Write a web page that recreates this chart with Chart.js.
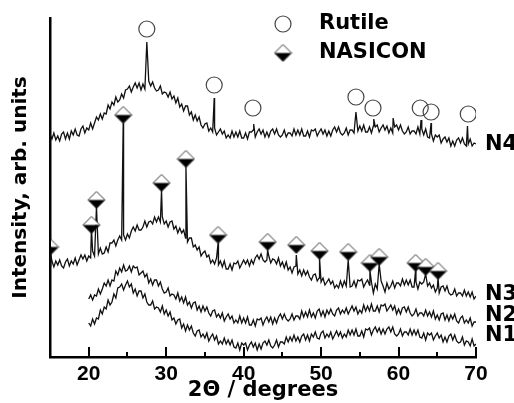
<!DOCTYPE html>
<html>
<head>
<meta charset="utf-8">
<script src="https://cdn.jsdelivr.net/npm/chart.js@4.4.0/dist/chart.umd.min.js"></script>
<style>
  html, body { margin: 0; padding: 0; background: #fff; }
  #wrap { width: 514px; height: 403px; }
</style>
</head>
<body>
<div id="wrap"><canvas id="xrd"></canvas></div>
<script>
// XRD patterns, 2theta in 0.25 deg steps, intensity in arb. units (curves stacked)
var step = 0.25;

var n4Start = 15;
var n4 = [
  223,218,224,217, 221,216,223,225, 218,224,218,226, 222,228,222,221, 228,231,224,229,
  227,234,228,234, 240,237,243,238, 244,243,252,248, 255,252,260,255, 257,263,259,267,
  268,271,265,270, 274,269,274,267, 273,268,274,276, 271,275,269,266, 267,271,263,265,
  264,260,265,258, 261,254,259,250, 253,246,251,251, 242,245,237,242, 236,240,232,229,
  233,234,226,229, 225,229,222,225, 228,223,226,219, 222,219,226,220, 225,220,226,219,
  219,224,218,225, 225,227,220,225, 228,223,227,220, 225,220,226,228, 223,228,222,220,
  222,227,220,224, 224,221,228,222, 227,222,228,221, 221,226,220,227, 226,228,221,225,
  228,223,227,221, 226,221,227,230, 225,230,224,222, 224,229,222,227, 227,224,231,226,
  231,226,232,225, 225,230,224,231, 230,232,225,229, 232,227,231,224, 229,224,230,232,
  227,232,226,223, 225,230,223,226, 226,223,230,223, 228,222,228,220, 219,223,216,222,
  220,222,214,218, 220,215,219,211, 216,211,217,219, 214,219,213,211, 213,218,211,214,
  213
];
var n4Peaks = [[27.5,315],[36.2,259],[41.3,233],[54.5,245],[56.8,238],[59.3,239],[62.9,237],[64.2,234],[68.9,231]];

var n3Start = 15;
var n3 = [
  91,96,90,96, 92,97,91,89, 95,98,91,96, 93,99,92,97, 102,98,102,96,
  101,99,106,101, 107,103,109,103, 104,110,105,114, 114,117,111,117, 121,117,122,117,
  123,119,126,130, 126,132,127,127, 130,136,130,135, 136,133,140,135, 140,135,140,133,
  136,130,135,136, 128,131,124,129, 124,127,119,115, 119,119,110,112, 107,110,101,104,
  106,100,102,94, 97,93,99,92, 96,90,96,88, 88,93,87,94, 93,96,89,93,
  97,93,97,91, 97,93,99,102, 98,103,97,95, 97,101,94,98, 97,93,99,91,
  95,89,95,87, 90,84,90,91, 83,87,81,87, 82,86,80,77, 82,83,76,79,
  75,79,72,75, 78,73,76,69, 72,69,76,70, 76,71,77,70, 71,76,70,77,
  76,78,70,74, 77,72,75,64, 73,68,74,76, 71,65,74,68, 71,76,69,74,
  74,71,78,72, 77,72,77,70, 70,75,68,75, 73,75,68,71, 74,69,72,65,
  69,64,70,71, 66,71,64,62, 63,68,61,64, 64,61,67,61, 65,60,65,58,
  61
];
var n3Peaks = [[15.1,103],[20.35,129],[21.0,150],[24.45,234],[29.4,167],[32.55,191],[36.7,114],[43.1,107],[46.8,102],[49.8,99],[53.5,97],[56.3,87],[57.5,93],[62.2,87],[63.5,83],[65.1,79]];

var n2Start = 20;
var n2 = [
  58,62,57,62, 61,68,63,68, 74,71,77,71, 77,76,86,82, 89,85,92,86,
  87,91,85,91, 89,90,82,84, 86,80,83,74, 78,72,77,77, 71,75,68,64,
  65,69,61,63, 62,58,64,56, 60,54,60,52, 55,49,54,55, 47,51,45,51,
  46,50,44,41, 46,47,40,43, 39,44,36,40, 43,38,41,34, 37,34,41,34,
  39,34,40,32, 32,37,31,38, 37,39,32,37, 40,35,40,33, 39,34,40,43,
  38,43,38,36, 38,43,37,41, 41,38,46,40, 45,40,47,40, 44,39,46,48,
  41,46,40,47, 43,48,43,41, 47,49,43,47, 44,49,43,47, 51,46,50,43,
  47,44,52,46, 51,46,53,46, 46,51,45,52, 51,53,46,49, 52,47,51,43,
  48,43,49,50, 45,50,44,41, 43,48,41,44, 44,41,47,41, 45,40,46,38,
  42,37,43,44, 37,42,36,42, 38,43,36,34, 39,41,34,37, 34,39,31,35,
  35
];

var n1Start = 20;
var n1 = [
  34,31,38,33, 39,38,47,43, 50,48,57,52, 55,63,59,69, 70,73,67,72,
  76,70,73,64, 68,61,66,66, 59,63,55,52, 52,56,48,50, 49,45,51,43,
  47,41,45,37, 39,33,37,38, 29,33,26,32, 27,31,24,21, 26,27,20,23,
  19,24,16,20, 23,17,21,13, 16,13,19,13, 17,12,17,10, 9,14,7,14,
  12,14,7,12, 15,10,14,7, 13,8,14,16, 12,17,11,9, 12,17,10,15,
  15,13,20,15, 20,16,22,16, 20,15,21,23, 17,22,16,23, 20,25,19,18,
  24,26,19,23, 20,25,18,22, 26,21,25,19, 23,20,27,22, 27,22,28,21,
  21,26,20,28, 27,29,22,27, 30,25,29,23, 28,23,28,30, 25,30,23,21,
  23,28,21,25, 25,22,28,22, 27,22,27,20, 19,24,17,24, 22,24,17,21,
  24,19,22,15, 20,15,21,23, 17,22,16,14, 15,20,12,16, 15,11,18,11,
  13
];

// phase markers [2theta, height]
var rutile = [[27.5,328],[36.2,272],[41.2,249],[54.5,260],[56.7,249],[62.8,249],[64.2,245],[69.0,243]];
var nasicon = [[15,110],[20.35,132],[21.0,157],[24.45,242],[29.4,174],[32.55,198],[36.7,122],[43.1,115],[46.8,112],[49.8,106],[53.5,105],[56.3,94],[57.5,100],[62.2,94],[63.5,90],[65.1,86]];

var majorTicks = [20, 30, 40, 50, 60, 70];
var minorTicks = [25, 35, 45, 55, 65];

function series(start, vals, peaks) {
  var pts = vals.map(function (v, i) { return { x: start + i * step, y: v }; });
  (peaks || []).forEach(function (p) {
    var hit = pts.find(function (q) { return Math.abs(q.x - p[0]) < 1e-6; });
    if (hit) hit.y = p[1]; else pts.push({ x: p[0], y: p[1] });
  });
  pts.sort(function (a, b) { return a.x - b.x; });
  return pts;
}
function toXY(arr) { return arr.map(function (p) { return { x: p[0], y: p[1] }; }); }

function makeDiamond(size) {
  var c = document.createElement('canvas');
  c.width = size + 2; c.height = size + 2;
  var g = c.getContext('2d');
  var m = (size + 2) / 2, h = size / 2;
  g.beginPath(); g.moveTo(m - h, m); g.lineTo(m, m - h); g.lineTo(m + h, m); g.closePath();
  g.fillStyle = '#fff'; g.fill();
  g.beginPath(); g.moveTo(m - h, m); g.lineTo(m, m + h); g.lineTo(m + h, m); g.closePath();
  g.fillStyle = '#000'; g.fill();
  g.beginPath(); g.moveTo(m - h, m); g.lineTo(m, m - h); g.lineTo(m + h, m); g.lineTo(m, m + h); g.closePath();
  g.strokeStyle = '#333'; g.lineWidth = 1; g.stroke();
  return c;
}
var diamond = makeDiamond(17);

var lineStyle = { borderColor: '#111', borderWidth: 1.3, pointRadius: 0, tension: 0, fill: false };

// keep the NASICON markers inside the plot frame on the left
var markerClip = {
  id: 'markerClip',
  beforeDatasetDraw: function (chart, args) {
    if (chart.data.datasets[args.index].label !== 'NASICON') return;
    var a = chart.chartArea, ctx = chart.ctx;
    ctx.save();
    ctx.beginPath();
    ctx.rect(a.left + 1, 0, chart.width - a.left, chart.height);
    ctx.clip();
  },
  afterDatasetDraw: function (chart, args) {
    if (chart.data.datasets[args.index].label !== 'NASICON') return;
    chart.ctx.restore();
  }
};

var extras = {
  id: 'extras',
  afterDraw: function (chart) {
    var ctx = chart.ctx, xs = chart.scales.x, bottom = chart.chartArea.bottom;
    ctx.save();
    // inward tick marks
    ctx.strokeStyle = '#000';
    ctx.lineWidth = 2;
    majorTicks.forEach(function (v) {
      var px = Math.round(xs.getPixelForValue(v));
      ctx.beginPath(); ctx.moveTo(px, bottom); ctx.lineTo(px, bottom - 10); ctx.stroke();
    });
    minorTicks.forEach(function (v) {
      var px = Math.round(xs.getPixelForValue(v));
      ctx.beginPath(); ctx.moveTo(px, bottom); ctx.lineTo(px, bottom - 5); ctx.stroke();
    });
    // curve names
    ctx.fillStyle = '#000';
    ctx.font = 'bold 21px "DejaVu Sans"';
    ctx.textBaseline = 'middle';
    ctx.textAlign = 'left';
    [['N4', 145], ['N3', 295], ['N2', 316], ['N1', 336]].forEach(function (l) {
      ctx.fillText(l[0], 485, l[1]);
    });
    // legend
    ctx.beginPath(); ctx.arc(283, 24, 8, 0, Math.PI * 2);
    ctx.strokeStyle = '#444'; ctx.lineWidth = 1.2; ctx.stroke();
    ctx.drawImage(diamond, 283 - diamond.width / 2, 53 - diamond.height / 2);
    ctx.fillText('Rutile', 319, 24);
    ctx.fillText('NASICON', 319, 53);
    ctx.restore();
  }
};

new Chart(document.getElementById('xrd'), {
  type: 'line',
  data: {
    datasets: [
      { label: 'Rutile', data: toXY(rutile), showLine: false, pointStyle: 'circle', pointRadius: 8,
        pointBorderColor: '#444', pointBackgroundColor: 'rgba(255,255,255,0)', pointBorderWidth: 1.2 },
      { label: 'NASICON', data: toXY(nasicon), showLine: false, pointStyle: diamond, pointRadius: 9 },
      Object.assign({ label: 'N4', data: series(n4Start, n4, n4Peaks) }, lineStyle),
      Object.assign({ label: 'N3', data: series(n3Start, n3, n3Peaks) }, lineStyle),
      Object.assign({ label: 'N2', data: series(n2Start, n2) }, lineStyle),
      Object.assign({ label: 'N1', data: series(n1Start, n1) }, lineStyle)
    ]
  },
  options: {
    responsive: true,
    maintainAspectRatio: false,
    animation: false,
    layout: { padding: { left: 0, top: 18, right: 38, bottom: 0 } },
    plugins: { legend: { display: false }, tooltip: { enabled: false } },
    scales: {
      x: {
        type: 'linear', min: 15, max: 70,
        afterBuildTicks: function (s) { s.ticks = majorTicks.map(function (v) { return { value: v }; }); },
        afterFit: function (s) { s.height = 46; },
        grid: { display: false, drawTicks: false },
        border: { display: true, color: '#000', width: 2.5 },
        ticks: { color: '#000', padding: 5, maxRotation: 0, font: { family: 'Liberation Sans', weight: 'bold', size: 21 } },
        title: { display: true, text: '2\u0398 / degrees', color: '#000', padding: { top: 0, bottom: 0 },
          font: { family: 'DejaVu Sans', weight: 'bold', size: 21 } }
      },
      y: {
        min: 0, max: 339,
        afterFit: function (s) { s.width = 50; },
        grid: { display: false, drawTicks: false },
        border: { display: true, color: '#000', width: 2.5 },
        ticks: { display: false },
        title: { display: true, text: 'Intensity, arb. units', color: '#000', padding: { top: 9, bottom: 0 },
          font: { family: 'DejaVu Sans', weight: 'bold', size: 20 } }
      }
    }
  },
  plugins: [markerClip, extras]
});
</script>
</body>
</html>
